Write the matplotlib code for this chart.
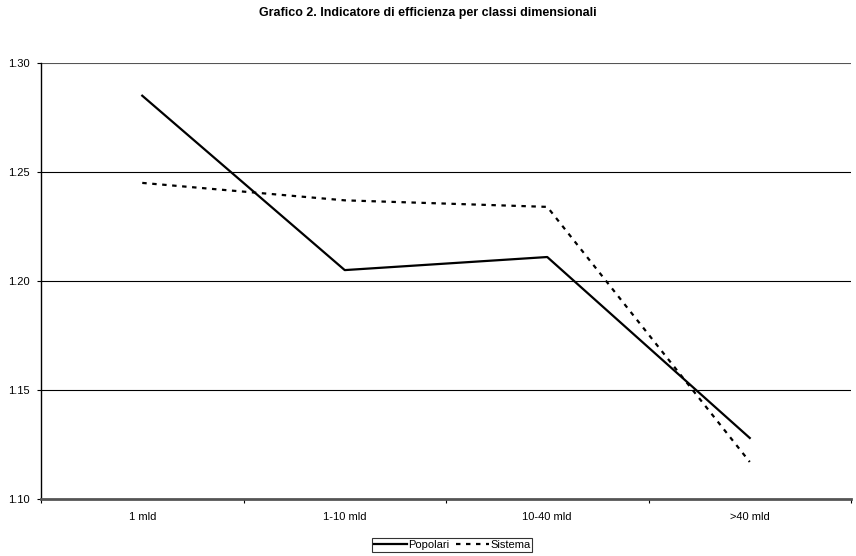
import matplotlib
matplotlib.use("Agg")
import matplotlib.pyplot as plt
import numpy as np

categories = ["1 mld", "1-10 mld", "10-40 mld", ">40 mld"]
popolari = [1.285, 1.205, 1.211, 1.128]
sistema = [1.245, 1.237, 1.234, 1.117]
yticks = [1.10, 1.15, 1.20, 1.25, 1.30]

plt.rcParams['font.family'] = ['Liberation Sans', 'DejaVu Sans']

fig = plt.figure(figsize=(8.56, 5.56), dpi=100)
ax = fig.add_axes([41/856, 1 - 499/556, 810/856, (499 - 63)/556])

x = np.arange(len(categories))
ax.plot(x, popolari, color="black", lw=1.6, label="Popolari")
ax.plot(x, sistema, color="black", lw=1.6, linestyle=(0, (2, 2.5)), label="Sistema")

ax.set_xlim(-0.5, len(categories) - 0.5)
ax.set_ylim(1.10, 1.30)
ax.set_yticks(yticks)
ax.set_yticklabels([f"{v:.2f}" for v in yticks], fontsize=8)
ax.set_xticks(x)
ax.set_xticklabels(categories, fontsize=8)
ax.tick_params(axis="x", length=0, pad=9)
ax.set_xticks(np.arange(-0.5, len(categories) + 0.5, 1), minor=True)
ax.tick_params(axis="x", which="minor", length=3, width=0.8, direction="out")
ax.tick_params(axis="y", length=3, width=0.8, direction="out", pad=5)

for v in yticks[1:-1]:
    ax.axhline(v, color="black", lw=0.8, zorder=0)
ax.axhline(yticks[-1], color="#555555", lw=0.8, zorder=0)

for s in ["top", "right"]:
    ax.spines[s].set_visible(False)
ax.spines["left"].set_linewidth(1.0)
ax.spines["bottom"].set_linewidth(2.0)
ax.spines["bottom"].set_color("#555555")

fig.suptitle("Grafico 2. Indicatore di efficienza per classi dimensionali",
             fontsize=9, fontweight="bold", y=1 - 13/556, va="center")

leg = fig.legend(loc="center", bbox_to_anchor=(452/856, 1 - 545/556), ncol=2,
                 fontsize=8, frameon=True, fancybox=False, edgecolor="black",
                 borderpad=0.15, handlelength=3.0, handletextpad=0.1, columnspacing=0.6,
                 borderaxespad=0)
leg.get_frame().set_linewidth(0.8)

fig.savefig("out.png", dpi=100)
